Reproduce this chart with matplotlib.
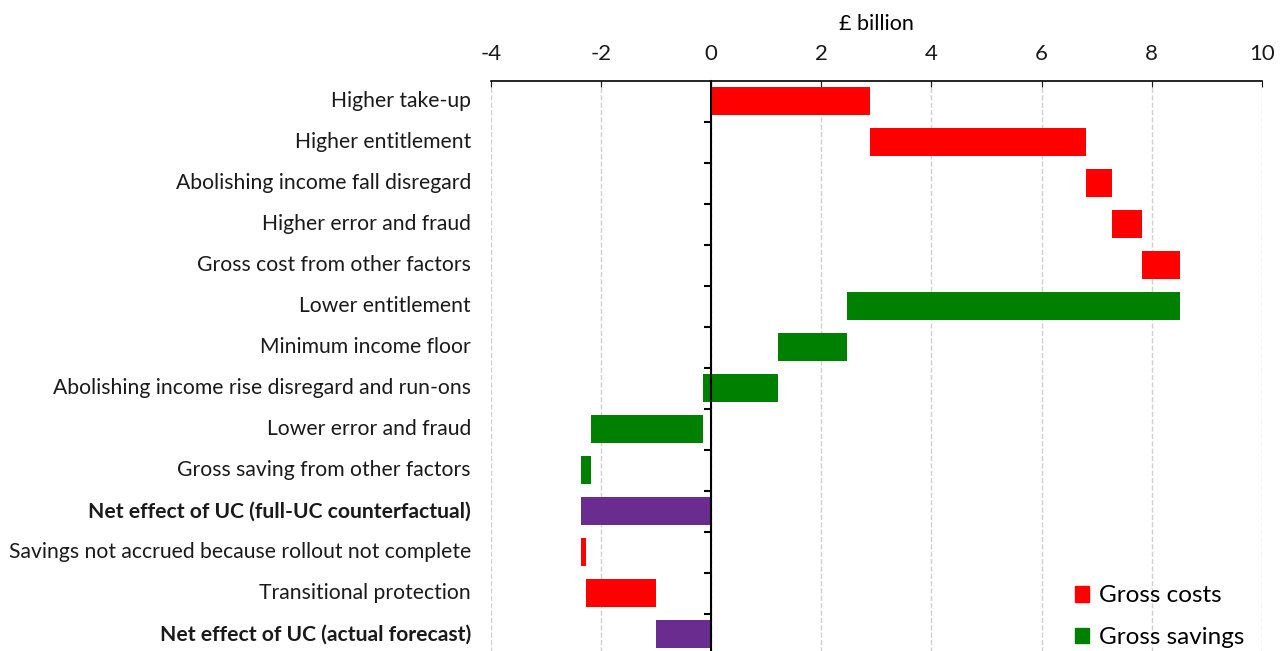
import numpy as np
import matplotlib
matplotlib.use('Agg')
import matplotlib.pyplot as plt
from matplotlib.patches import Patch

# Data (£ billion)
labels = ['Higher take-up', 'Higher entitlement', 'Abolishing income fall disregard',
          'Higher error and fraud', 'Gross cost from other factors', 'Lower entitlement',
          'Minimum income floor', 'Abolishing income rise disregard and run-ons',
          'Lower error and fraud', 'Gross saving from other factors',
          'Net effect of UC (full-UC counterfactual)',
          'Savings not accrued because rollout not complete',
          'Transitional protection', 'Net effect of UC (actual forecast)']
changes = [2.89, 3.92, 0.47, 0.54, 0.69, -6.04, -1.26, -1.35, -2.04, -0.18,
           None, 0.08, 1.28, None]
kinds = ['cost', 'cost', 'cost', 'cost', 'cost', 'saving', 'saving', 'saving',
         'saving', 'saving', 'net', 'cost', 'cost', 'net']

colours = {'cost': '#ff0000', 'saving': '#008000', 'net': '#6a2c8f'}

plt.rcParams['font.family'] = ['Lato', 'DejaVu Sans']
plt.rcParams['axes.unicode_minus'] = False

fig = plt.figure(figsize=(12.85, 6.51), dpi=100)
ax = fig.add_axes([0.382, -0.006, 0.6, 0.882])

running = 0.0
for i, (lab, ch, kd) in enumerate(zip(labels, changes, kinds)):
    if kd == 'net':
        left, width = 0, running
    else:
        left, width = running, ch
        running += ch
    ax.barh(i, width, left=left, height=0.68, color=colours[kd], zorder=3)
    ax.text(-0.026, i, lab, transform=ax.get_yaxis_transform(), ha='right',
            va='center', fontsize=15.2, color='#1a1a1a',
            fontweight='bold' if kd == 'net' else 'normal')

ax.set_xlim(-4, 10)
ax.set_ylim(len(labels) - 0.5, -0.5)
ax.set_xticks(np.arange(-4, 11, 2))
ax.xaxis.tick_top()
ax.xaxis.set_label_position('top')
ax.set_xlabel('£ billion', fontsize=15.5, labelpad=10)
ax.tick_params(axis='x', direction='in', length=4, labelsize=16, pad=12, colors='#1a1a1a')
ax.grid(axis='x', color='#cfcfcf', linestyle='--', linewidth=1, zorder=0)

for s in ['right', 'bottom']:
    ax.spines[s].set_visible(False)
ax.spines['top'].set_linewidth(1.2)
ax.spines['left'].set_position(('data', 0))
ax.spines['left'].set_linewidth(1.5)
ax.spines['left'].set_zorder(4)
ax.set_yticks([])
ax.set_yticks(np.arange(0.5, len(labels) - 0.5, 1), minor=True)
ax.tick_params(axis='y', which='minor', direction='out', length=5, width=1.5)
ax.set_yticklabels([], minor=True)

handles = [Patch(color=colours['cost'], label='Gross costs'),
           Patch(color=colours['saving'], label='Gross savings')]
ax.legend(handles=handles, loc='lower right', frameon=False, fontsize=17.5,
          handlelength=0.6, handleheight=0.6, handletextpad=0.4,
          labelspacing=0.85, borderaxespad=0.0, bbox_to_anchor=(0.99, -0.005))

fig.savefig('out.png', dpi=100)
